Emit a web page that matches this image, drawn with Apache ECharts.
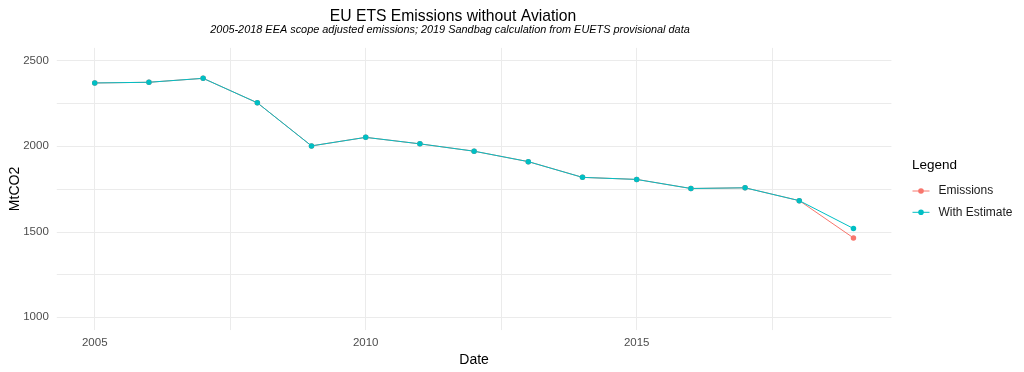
<!DOCTYPE html>
<html>
<head>
<meta charset="utf-8">
<script src="https://cdn.jsdelivr.net/npm/echarts@6/dist/echarts.min.js"></script>
<style>
html,body{margin:0;padding:0;background:#fff;}
#chart{width:1024px;height:372px;}
</style>
</head>
<body>
<div id="chart"></div>
<script>
var years = [2005,2006,2007,2008,2009,2010,2011,2012,2013,2014,2015,2016,2017,2018,2019];
var emissions = [2370,2374,2397,2254,2002,2052,2014,1971,1910,1818,1806,1753,1757,1682,1464];
var withEstimate = [2370,2374,2397,2254,2002,2052,2014,1971,1910,1818,1806,1753,1757,1682,1519];
var xTickLabels = [2005,2010,2015];
var xGridValues = [2005,2007.5,2010,2012.5,2015,2017.5];
var yTickLabels = [1000,1500,2000,2500];
var yGridValues = [1000,1250,1500,1750,2000,2250,2500];

function pairs(xs, ys){ return xs.map(function(x,i){ return [x, ys[i]]; }); }

var font = 'Liberation Sans, Arial, sans-serif';
var chart = echarts.init(document.getElementById('chart'), null, {renderer:'canvas'});
chart.setOption({
  animation: false,
  backgroundColor: '#ffffff',
  textStyle: {fontFamily: font},
  title: [
    {text: 'EU ETS Emissions without Aviation', left: 448, top: 3.6, textAlign: 'center',
     textStyle: {fontFamily: font, fontSize: 15.7, fontWeight: 'normal', color: '#000', lineHeight: 15.7}},
    {text: '2005-2018 EEA scope adjusted emissions; 2019 Sandbag calculation from EUETS provisional data',
     left: 445, top: 19, textAlign: 'center',
     textStyle: {fontFamily: font, fontSize: 10.9, fontStyle: 'italic', fontWeight: 'normal', color: '#000', lineHeight: 11}},
    {text: 'Legend', left: 907, top: 153,
     textStyle: {fontFamily: font, fontSize: 13.5, fontWeight: 'normal', color: '#000', lineHeight: 14}}
  ],
  grid: {left: 56.8, right: 132.6, top: 47.9, bottom: 41.9, containLabel: false, outerBoundsMode: 'none'},
  xAxis: {
    type: 'value', min: 2004.3, max: 2019.7,
    name: 'Date', nameLocation: 'middle', nameGap: 23, nameMoveOverlap: false,
    nameTextStyle: {fontFamily: font, fontSize: 14, color: '#000'},
    axisLine: {show: false},
    axisTick: {show: false, customValues: xGridValues},
    axisLabel: {customValues: xTickLabels, color: '#4D4D4D', fontSize: 11.5, margin: 7, fontFamily: font,
      formatter: function(v){ return String(v); }},
    splitLine: {show: true, lineStyle: {color: '#EBEBEB', width: 1}}
  },
  yAxis: {
    type: 'value', min: 925, max: 2575,
    name: 'MtCO2', nameLocation: 'middle', nameGap: 35, nameMoveOverlap: false,
    nameTextStyle: {fontFamily: font, fontSize: 14, color: '#000'},
    axisLine: {show: false},
    axisTick: {show: false, customValues: yGridValues},
    axisLabel: {customValues: yTickLabels, color: '#4D4D4D', fontSize: 11.5, margin: 8, fontFamily: font,
      formatter: function(v){ return String(v); }},
    splitLine: {show: true, lineStyle: {color: '#EBEBEB', width: 1}}
  },
  legend: {
    orient: 'vertical', left: 907, top: 179,
    itemWidth: 17, itemHeight: 7, itemGap: 7.3,
    lineStyle: {width: 1},
    textStyle: {fontFamily: font, fontSize: 12, color: '#1A1A1A', padding: [0,0,0,4], lineHeight: 14},
    data: ['Emissions', 'With Estimate']
  },
  series: [
    {name: 'Emissions', type: 'line', data: pairs(years, emissions),
     symbol: 'circle', symbolSize: 5.5, showSymbol: true,
     lineStyle: {color: '#F8766D', width: 1}, itemStyle: {color: '#F8766D'}},
    {name: 'With Estimate', type: 'line', data: pairs(years, withEstimate),
     symbol: 'circle', symbolSize: 5.5, showSymbol: true,
     lineStyle: {color: '#00BFC4', width: 1}, itemStyle: {color: '#00BFC4'}}
  ]
});
</script>
</body>
</html>
